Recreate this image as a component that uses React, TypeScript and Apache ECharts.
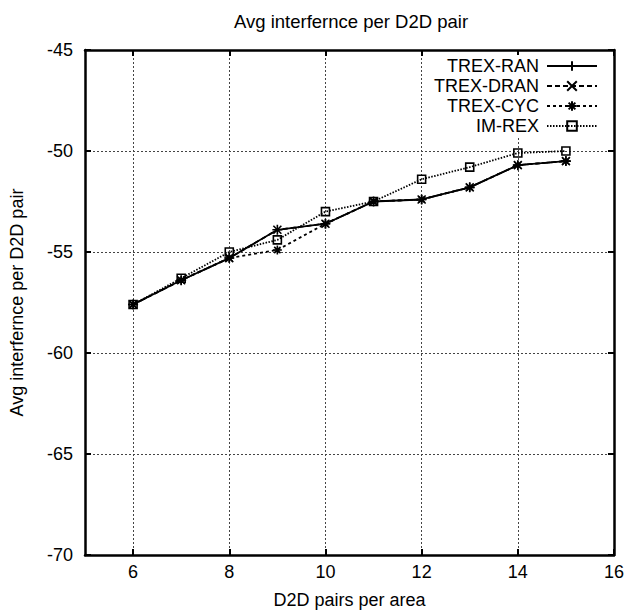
import React, { useEffect, useRef } from "react";
import * as echarts from "echarts";

const xValues = [6, 7, 8, 9, 10, 11, 12, 13, 14, 15];
const trexRan = [-57.6, -56.4, -55.3, -53.9, -53.6, -52.5, -52.4, -51.8, -50.7, -50.5];
const trexDran = [-57.6, -56.4, -55.3, -53.9, -53.6, -52.5, -52.4, -51.8, -50.7, -50.5];
const trexCyc = [-57.6, -56.4, -55.3, -54.9, -53.6, -52.5, -52.4, -51.8, -50.7, -50.5];
const imRex = [-57.6, -56.3, -55.0, -54.4, -53.0, -52.5, -51.4, -50.8, -50.1, -50.0];
const xTicks = [6, 8, 10, 12, 14, 16];

const FONT = "Liberation Sans, Arial, sans-serif";

const PLUS = "path://M5,0L5,10M0,5L10,5";
const CROSS = "path://M0,0L10,10M0,10L10,0";
const STAR = "path://M5,0L5,10M0,5L10,5M1.5,1.5L8.5,8.5M1.5,8.5L8.5,1.5";
const SQUARE = "path://M0,0L10,0L10,10L0,10Z";

function mk(name: string, vals: number[], symbol: string, size: number, dash: any) {
  return {
    name,
    type: "line",
    data: xValues.map((x, i) => [x, vals[i]]),
    symbol,
    symbolSize: size,
    showAllSymbol: true,
    lineStyle: { color: "#000", width: 1.8, type: dash },
    itemStyle: { color: "none", borderColor: "#000", borderWidth: 1.6 },
    emphasis: { disabled: true },
  };
}

export default function App() {
  const ref = useRef<HTMLDivElement>(null);
  useEffect(() => {
    if (!ref.current) return;
    const chart = echarts.init(ref.current, undefined, { renderer: "svg" });
    const axisCommon = {
      axisLine: { show: true, onZero: false, lineStyle: { color: "#000", width: 2.5 } },
      axisTick: { show: true, inside: true, length: 6, lineStyle: { color: "#000", width: 2 } },
    };
    const labelStyle = { fontFamily: FONT, fontSize: 18, color: "#000" };
    chart.setOption({
      animation: false,
      backgroundColor: "#fff",
      title: {
        text: "Avg interfernce per D2D pair",
        left: 351,
        top: 12,
        textAlign: "center",
        padding: 0,
        textStyle: { fontFamily: FONT, fontSize: 18.5, fontWeight: "normal", color: "#000" },
      },
      legend: {
        orient: "vertical",
        right: 40,
        top: 55,
        align: "right",
        itemWidth: 50,
        itemHeight: 12,
        itemGap: 2,
        padding: [2, 0, 2, 4],
        backgroundColor: "#fff",
        textStyle: { ...labelStyle, padding: [0, 3, 0, 0] },
        data: ["TREX-RAN", "TREX-DRAN", "TREX-CYC", "IM-REX"],
      },
      grid: { left: 82, right: 24, top: 50, bottom: 55, containLabel: false },
      xAxis: [
        {
          type: "value",
          min: 5,
          max: 16,
          position: "bottom",
          name: "D2D pairs per area",
          nameLocation: "middle",
          nameGap: 36,
          nameTextStyle: labelStyle,
          ...axisCommon,
          axisTick: { ...axisCommon.axisTick, customValues: xTicks },
          axisLabel: { ...labelStyle, customValues: xTicks, margin: 8 },
          splitLine: { show: true, lineStyle: { color: "#444", width: 1, type: [2, 2] } },
        },
        {
          type: "value",
          min: 5,
          max: 16,
          position: "top",
          ...axisCommon,
          axisTick: { ...axisCommon.axisTick, customValues: xTicks },
          axisLabel: { show: false },
          splitLine: { show: false },
        },
      ],
      yAxis: [
        {
          type: "value",
          min: -70,
          max: -45,
          interval: 5,
          position: "left",
          name: "Avg interfernce per D2D pair",
          nameLocation: "middle",
          nameGap: 59,
          nameTextStyle: labelStyle,
          ...axisCommon,
          axisLabel: { ...labelStyle, margin: 12 },
          splitLine: { show: true, lineStyle: { color: "#444", width: 1, type: [2, 2] } },
        },
        {
          type: "value",
          min: -70,
          max: -45,
          interval: 5,
          position: "right",
          ...axisCommon,
          axisLabel: { show: false },
          splitLine: { show: false },
        },
      ],
      series: [
        mk("TREX-RAN", trexRan, PLUS, 10, "solid"),
        mk("TREX-DRAN", trexDran, CROSS, 8, [5, 3]),
        mk("TREX-CYC", trexCyc, STAR, 9, [3, 3]),
        mk("IM-REX", imRex, SQUARE, 8, [1.5, 1.5]),
      ],
    });
    return () => chart.dispose();
  }, []);
  return (
    <div
      ref={ref}
      style={{ position: "fixed", left: 0, top: 0, width: 638, height: 614, background: "#fff" }}
    />
  );
}
